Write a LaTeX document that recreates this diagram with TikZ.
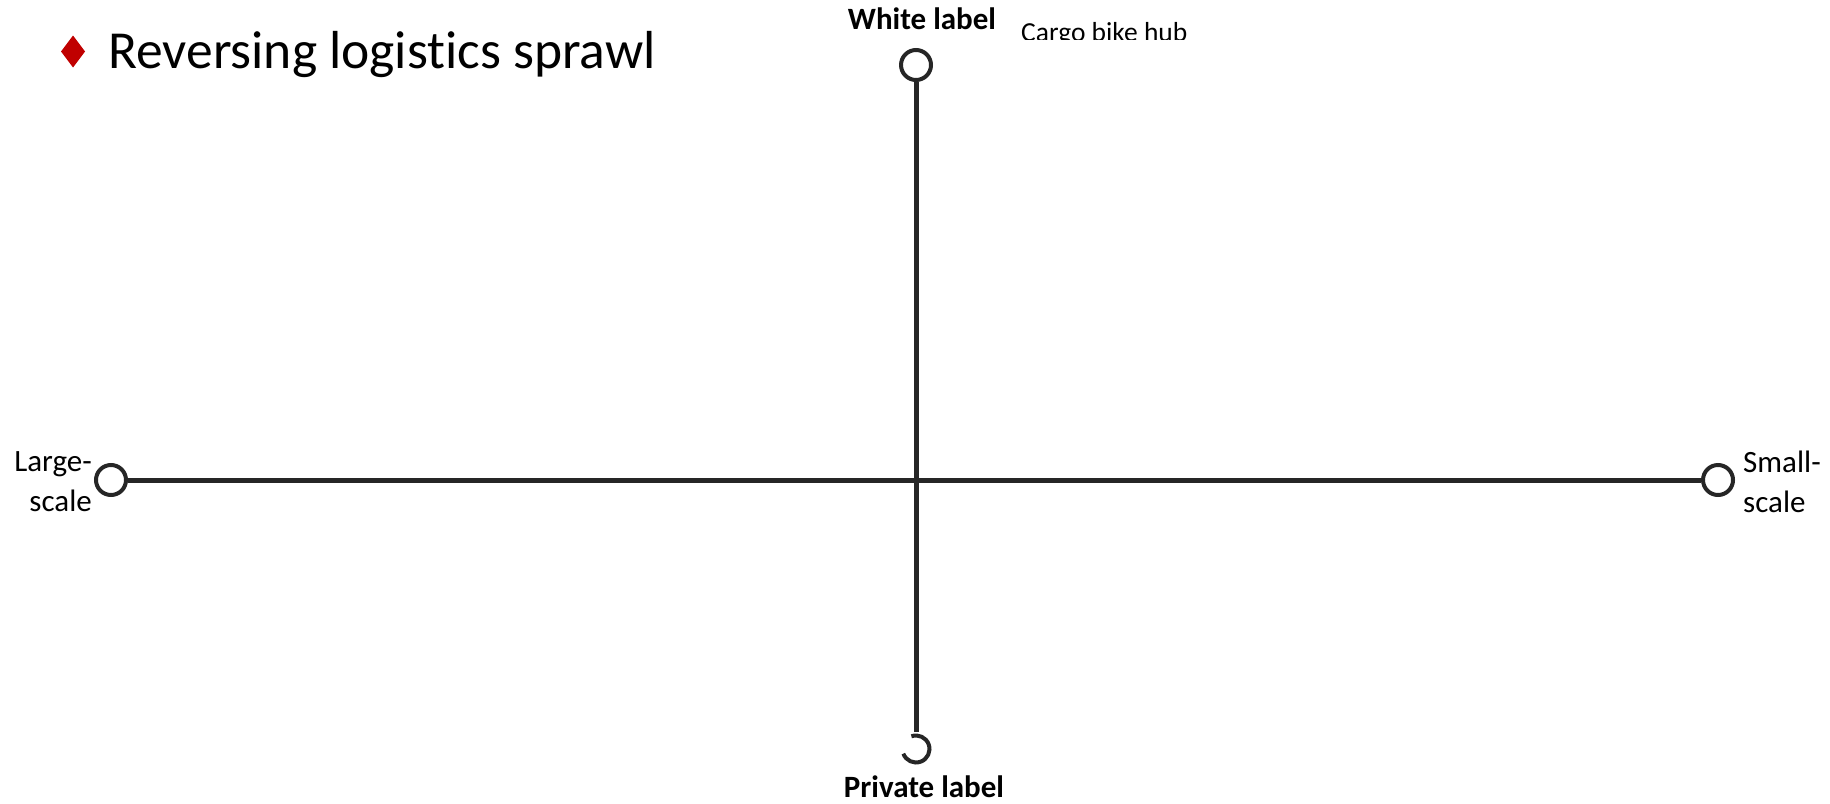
\documentclass[tikz,border=0pt]{standalone}
\usepackage{fontspec}
\setmainfont[Ligatures={NoCommon}]{Carlito}
\definecolor{ejegris}{HTML}{262626}
\definecolor{rojoviñeta}{HTML}{C00000}
\begin{document}
\begin{tikzpicture}[
  x=1pt, y=-1pt,
  eje/.style={draw=ejegris, line width=5pt},
  extremo/.style={circle, draw=ejegris, line width=4pt, fill=white, inner sep=0pt, minimum size=30pt},
  etiqueta/.style={font=\fontsize{31}{40}\selectfont, inner sep=0pt}
]
  \useasboundingbox (0,0) rectangle (1830,803);

  % Titulo con viñeta
  \fill[rojoviñeta] (73,35.5) -- (85,51.5) -- (73,67.5) -- (61,51.5) -- cycle;
  \node[anchor=base west, inner sep=0pt, font=\fontsize{53.5}{60}\selectfont] (titulo) at (108,68) {Reversing logistics sprawl};

  % Extremos de los ejes
  \node[extremo] (arriba) at (916,65) {};
  \node[extremo, draw=none, fill=none] (abajo) at (916,749) {};
  \node[extremo] (izq) at (111,480) {};
  \node[extremo] (der) at (1718,480) {};

  % Circulo abierto de abajo
  \draw[draw=ejegris, line width=4pt] (abajo.center) ++(110:13.5pt) arc[start angle=110, end angle=-160, radius=13.5pt];

  % Ejes
  \draw[eje] (izq) -- (der);
  \draw[eje] (arriba) -- (abajo);

  % Etiquetas de los ejes
  \node[etiqueta, anchor=base, font=\fontsize{31}{40}\bfseries] (blanca) at (922,29) {White label};
  \node[etiqueta, anchor=base, font=\fontsize{31}{40}\bfseries] (privada) at (924,797) {Private label};
  \node[etiqueta, anchor=east, align=right] (grande) at (92,482) {Large-\\scale};
  \node[etiqueta, anchor=west, align=left] (pequena) at (1743,482) {Small-\\scale};

  % Texto recortado arriba
  \begin{scope}
    \clip (1000,0) rectangle (1250,39);
    \node[anchor=base west, inner sep=0pt, font=\fontsize{27.5}{30}\selectfont] (cargo) at (1021,41) {Cargo bike hub};
  \end{scope}

\end{tikzpicture}
\end{document}
